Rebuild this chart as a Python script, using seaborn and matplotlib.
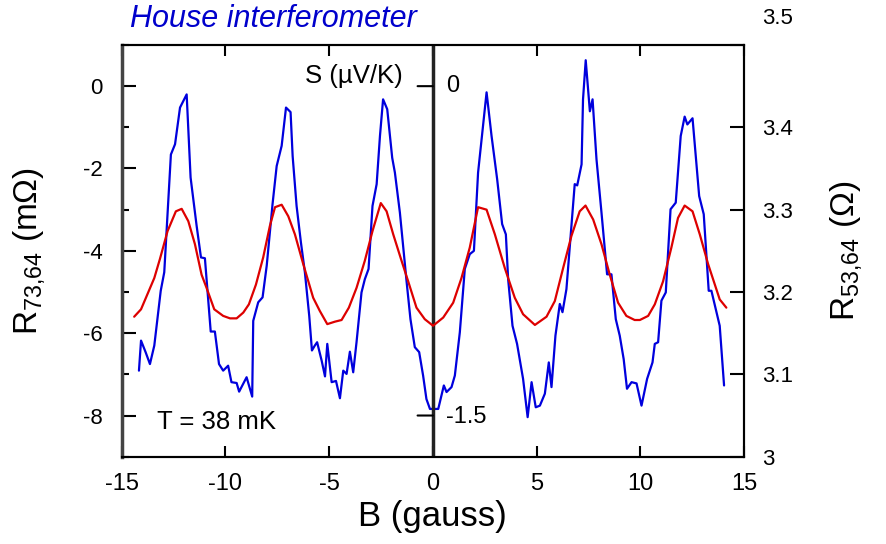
import numpy as np
import pandas as pd
import matplotlib
matplotlib.use("Agg")
import matplotlib.pyplot as plt
import seaborn as sns
from matplotlib.ticker import FixedLocator

# ---- data ----
# blue trace (left axis units, mOhm)
blue_B = [-14.17, -14.07, -13.85, -13.64, -13.43, -13.12, -12.95, -12.63, -12.43, -12.19,
          -11.87, -11.68, -11.39, -11.18, -10.99, -10.71, -10.51, -10.31, -10.11, -9.87,
          -9.71, -9.46, -9.34, -8.98, -8.71, -8.66, -8.42, -8.21, -8.01, -7.73,
          -7.53, -7.29, -7.08, -6.86, -6.76, -6.57, -6.36, -6.17, -5.96, -5.83,
          -5.69, -5.58, -5.36, -5.20, -5.09, -4.88, -4.67, -4.48, -4.32, -4.16,
          -4.00, -3.84, -3.68, -3.44, -3.28, -3.10, -2.91, -2.71, -2.55, -2.40,
          -2.20, -1.96, -1.83, -1.59, -1.27, -1.08, -0.87, -0.66, -0.47, -0.31,
          -0.14, 0.01, 0.26, 0.53, 0.66, 0.90, 1.06, 1.30, 1.54, 1.78,
          1.98, 2.18, 2.40, 2.59, 2.83, 3.10, 3.34, 3.52, 3.63, 3.84,
          4.06, 4.35, 4.57, 4.76, 4.96, 5.16, 5.40, 5.59, 5.72, 5.91,
          6.12, 6.25, 6.44, 6.84, 6.96, 7.17, 7.24, 7.37, 7.57, 7.70,
          7.89, 8.13, 8.40, 8.61, 8.82, 9.01, 9.20, 9.36, 9.58, 9.82,
          10.06, 10.33, 10.59, 10.70, 10.86, 11.02, 11.23, 11.46, 11.71, 11.95,
          12.14, 12.27, 12.52, 12.84, 13.06, 13.30, 13.43, 13.83, 14.04]
blue_R = [-6.91, -6.18, -6.46, -6.75, -6.30, -4.97, -4.52, -1.66, -1.41, -0.52,
          -0.20, -2.22, -3.39, -4.16, -4.18, -5.96, -5.96, -6.75, -6.91, -6.79,
          -7.19, -7.21, -7.42, -7.07, -7.54, -5.70, -5.25, -5.13, -4.36, -2.87,
          -1.94, -1.45, -0.52, -0.63, -1.70, -2.91, -3.80, -4.52, -5.58, -6.42,
          -6.30, -6.22, -6.67, -7.05, -6.26, -7.19, -7.16, -7.58, -6.91, -6.99,
          -6.45, -6.95, -6.22, -5.01, -4.69, -4.44, -2.91, -2.38, -1.21, -0.32,
          -0.56, -1.74, -2.10, -3.07, -4.73, -5.66, -6.34, -6.46, -7.03, -7.60,
          -7.84, -7.84, -7.84, -7.27, -7.43, -7.31, -7.03, -5.98, -4.44, -4.08,
          -4.00, -2.10, -1.05, -0.15, -1.21, -2.26, -3.35, -3.60, -4.69, -5.82,
          -6.26, -7.11, -8.04, -7.19, -7.80, -7.76, -7.47, -6.71, -7.31, -6.06,
          -5.29, -5.49, -4.93, -2.38, -2.41, -1.90, -0.32, 0.63, -0.61, -0.32,
          -1.78, -3.07, -4.57, -4.57, -5.66, -6.06, -6.63, -7.35, -7.19, -7.22,
          -7.76, -7.11, -6.71, -6.26, -6.22, -5.21, -5.01, -2.99, -2.83, -1.21,
          -0.74, -0.93, -0.78, -2.67, -3.11, -4.97, -4.97, -5.82, -7.27]

# red trace (right axis units, Ohm)
red_B = [-14.40, -14.07, -13.80, -13.43, -13.16, -12.79, -12.39, -12.11, -11.79, -11.47,
         -11.15, -10.91, -10.54, -10.11, -9.78, -9.46, -9.14, -8.87, -8.53, -8.18,
         -7.86, -7.61, -7.29, -6.97, -6.65, -6.25, -5.77, -5.45, -5.09, -4.72,
         -4.40, -4.05, -3.68, -3.28, -2.91, -2.51, -2.23, -1.91, -1.51, -1.19,
         -0.79, -0.39, 0.01, 0.50, 0.98, 1.38, 1.78, 2.18, 2.59, 2.99,
         3.47, 3.95, 4.35, 4.92, 5.48, 5.88, 6.28, 6.68, 7.08, 7.36,
         7.73, 8.13, 8.53, 8.93, 9.33, 9.73, 9.98, 10.38, 10.70, 11.10,
         11.50, 11.82, 12.14, 12.52, 12.87, 13.27, 13.83, 14.15]
red_R = [3.170, 3.179, 3.195, 3.217, 3.240, 3.274, 3.298, 3.301, 3.286, 3.258,
         3.221, 3.205, 3.179, 3.171, 3.168, 3.168, 3.175, 3.185, 3.209, 3.242,
         3.280, 3.303, 3.306, 3.292, 3.270, 3.234, 3.193, 3.177, 3.161, 3.164,
         3.166, 3.181, 3.205, 3.238, 3.274, 3.308, 3.298, 3.270, 3.238, 3.213,
         3.181, 3.167, 3.159, 3.169, 3.187, 3.217, 3.254, 3.303, 3.300, 3.270,
         3.229, 3.193, 3.173, 3.160, 3.170, 3.189, 3.229, 3.268, 3.298, 3.305,
         3.288, 3.258, 3.221, 3.187, 3.171, 3.166, 3.166, 3.171, 3.185, 3.213,
         3.254, 3.290, 3.305, 3.298, 3.270, 3.234, 3.191, 3.181]

x_ticks = [-15, -10, -5, 0, 5, 10, 15]
left_ticks = [0, -2, -4, -6, -8]
right_ticks = [3, 3.1, 3.2, 3.3, 3.4]
right_tick_labels = ["3", "3.1", "3.2", "3.3", "3.4"]
s_labels = ["0", "-1.5"]

blue_df = pd.DataFrame({"B": blue_B, "R": blue_R})
red_df = pd.DataFrame({"B": red_B, "R": red_R})

sns.set_theme(style="ticks")
plt.rcParams["font.family"] = ["Liberation Sans", "DejaVu Sans"]
plt.rcParams["mathtext.fontset"] = "custom"
plt.rcParams["mathtext.rm"] = "Liberation Sans"
plt.rcParams["mathtext.it"] = "Liberation Sans:italic"
plt.rcParams["axes.unicode_minus"] = False
for k in ["text.color", "axes.labelcolor", "xtick.color", "ytick.color", "axes.edgecolor"]:
    plt.rcParams[k] = "black"

BLUE = "#0000DD"
RED = "#DD0000"

fig = plt.figure(figsize=(8.86, 5.44), dpi=100)
ax = fig.add_axes([0.1374, 0.1605, 0.7023, 0.7568])
ax2 = ax.twinx()

sns.lineplot(data=blue_df, x="B", y="R", ax=ax, color=BLUE, lw=1.6,
             sort=False, estimator=None)
sns.lineplot(data=red_df, x="B", y="R", ax=ax2, color=RED, lw=1.6,
             sort=False, estimator=None)

ax.set_xlim(-15, 15)
ax.set_ylim(-9, 1)
ax2.set_ylim(3, 3.5)

xt_fs = 17
yt_fs = 16
ax.set_xticks(x_ticks)
ax.set_xticklabels([str(t) for t in x_ticks])
ax.set_yticks(left_ticks)
ax.set_yticklabels([str(t) for t in left_ticks])
ax.yaxis.set_minor_locator(FixedLocator([1, -1, -3, -5, -7, -9]))
ax.tick_params(axis="y", which="major", direction="in", length=10, width=1.5,
               labelsize=yt_fs, pad=14)
ax.tick_params(axis="y", which="minor", direction="in", length=5, width=1.5)
ax.tick_params(axis="x", which="major", direction="in", length=8, width=1.5,
               labelsize=xt_fs, pad=12, top=True)

ax2.set_yticks(right_ticks + [3.5])
ax2.set_yticklabels(right_tick_labels + [""])
ax2.tick_params(axis="y", direction="in", length=10, width=1.5,
                labelsize=yt_fs, pad=13)
ax2.annotate("3.5", xy=(1.0, 3.5), xycoords=("axes fraction", "data"),
             xytext=(13, 19), textcoords="offset points", fontsize=yt_fs,
             ha="left", va="center")

for name, sp in ax.spines.items():
    sp.set_color("black")
    sp.set_linewidth(1.5)
ax.spines["left"].set_color("#444444")
ax.spines["left"].set_linewidth(2.5)
for name, sp in ax2.spines.items():
    sp.set_color("black")
    sp.set_linewidth(1.5)
ax2.spines["left"].set_visible(False)

# middle axis at B = 0 (S scale)
ax.axvline(0, color="#222222", lw=2.5)
for yv in [left_ticks[0], left_ticks[-1]]:
    ax.annotate("", xy=(0, yv), xycoords="data", xytext=(-11, 0),
                textcoords="offset points",
                arrowprops=dict(arrowstyle="-", color="black", lw=1.5,
                                shrinkA=0, shrinkB=0))
ax.annotate(s_labels[0], xy=(0, left_ticks[0]), xytext=(9.5, 0),
            textcoords="offset points", fontsize=17, ha="left", va="center")
ax.annotate(s_labels[1], xy=(0, left_ticks[-1]), xytext=(9.5, -1),
            textcoords="offset points", fontsize=17, ha="left", va="center")

ax.set_xlabel("B (gauss)", fontsize=25)
ax.xaxis.set_label_coords(0.5, -0.105)
ax.set_ylabel("R$_{73{,}64}$ (m\u03a9)", fontsize=24)
ax.yaxis.set_label_coords(-0.12, 0.5)
ax2.set_ylabel("R$_{53{,}64}$ (\u03a9)", fontsize=24)
ax2.yaxis.set_label_coords(1.136, 0.5)

ax.text(0.452, 0.925, "S (\u00b5V/K)", transform=ax.transAxes, fontsize=18.5,
        ha="right", va="center")
ax.text(0.0566, 0.084, "T = 38 mK", transform=ax.transAxes, fontsize=18.5,
        ha="left", va="center")
fig.text(0.147, 0.965, "House interferometer", fontsize=22, style="italic",
         color="#0000CC", ha="left", va="center")

fig.savefig("out.png", dpi=100)
